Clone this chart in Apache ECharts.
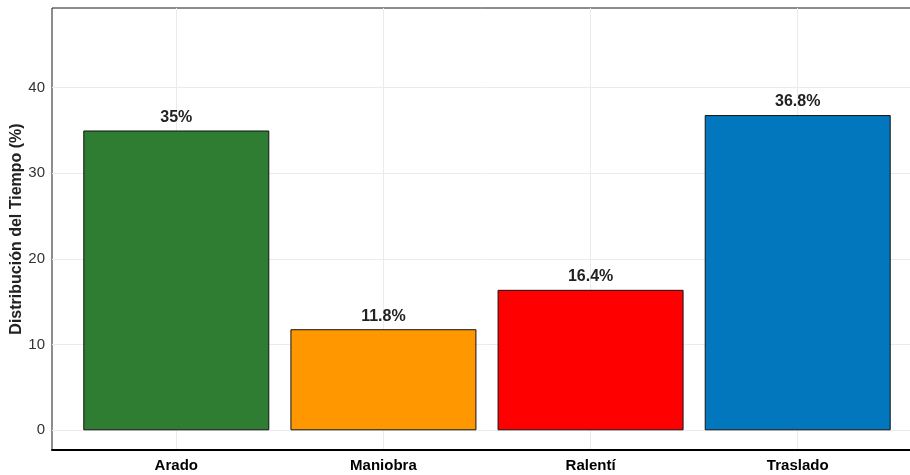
<!DOCTYPE html>
<html>
<head>
<meta charset="utf-8">
<script src="https://cdn.jsdelivr.net/npm/echarts@6/dist/echarts.min.js"></script>
<style>
  html, body { margin: 0; padding: 0; background: #fff; }
  #chart { width: 910px; height: 475px; }
</style>
</head>
<body>
<div id="chart"></div>
<script>
// Time distribution by activity (%)
const categories = ['Arado', 'Maniobra', 'Ralentí', 'Traslado'];
const values = [35, 11.8, 16.4, 36.8];
const barColors = ['#2E7D32', '#FF9800', '#FF0000', '#0277BD'];
const yTicks = [0, 10, 20, 30, 40];
const yTitle = 'Distribución del Tiempo (%)';

const positions = categories.map((c, i) => i);

const chart = echarts.init(document.getElementById('chart'), null, { renderer: 'canvas' });

chart.setOption({
  animation: false,
  backgroundColor: '#ffffff',
  grid: {
    left: 52, right: -12, top: 8, bottom: 25,
    containLabel: false,
    outerBoundsMode: 'none',
    show: true, borderColor: '#1a1a1a', borderWidth: 1, backgroundColor: 'transparent'
  },
  xAxis: {
    type: 'value',
    min: -0.6, max: 3.6,
    axisLine: { show: true, onZero: false, lineStyle: { color: '#000', width: 2 } },
    axisTick: { show: false, customValues: positions },
    splitLine: { show: true, lineStyle: { color: '#ebebeb', width: 1 } },
    axisLabel: {
      customValues: positions,
      formatter: v => categories[Math.round(v)],
      fontFamily: 'Liberation Sans, Arial, sans-serif',
      fontWeight: 'bold', fontSize: 15, color: '#000', margin: 8
    }
  },
  yAxis: {
    type: 'value',
    min: -2.3, max: 49.3,
    name: yTitle,
    nameLocation: 'middle',
    nameGap: 27,
    nameMoveOverlap: false,
    nameTextStyle: {
      fontFamily: 'Liberation Sans, Arial, sans-serif',
      fontWeight: 'bold', fontSize: 16, color: '#222'
    },
    axisLine: { show: false },
    axisTick: { show: false, customValues: yTicks },
    splitLine: { show: true, lineStyle: { color: '#ebebeb', width: 1 } },
    axisLabel: {
      customValues: yTicks,
      fontFamily: 'Liberation Sans, Arial, sans-serif',
      fontSize: 15, color: '#333', margin: 7
    }
  },
  series: [{
    type: 'bar',
    data: values.map((v, i) => ({
      value: [positions[i], v],
      itemStyle: { color: barColors[i] }
    })),
    barWidth: 186,
    itemStyle: { borderColor: '#111', borderWidth: 1 },
    label: {
      show: true,
      position: 'top',
      distance: 5,
      formatter: p => p.value[1] + '%',
      fontFamily: 'Liberation Sans, Arial, sans-serif',
      fontWeight: 'bold', fontSize: 16, color: '#222'
    }
  }]
});
</script>
</body>
</html>
